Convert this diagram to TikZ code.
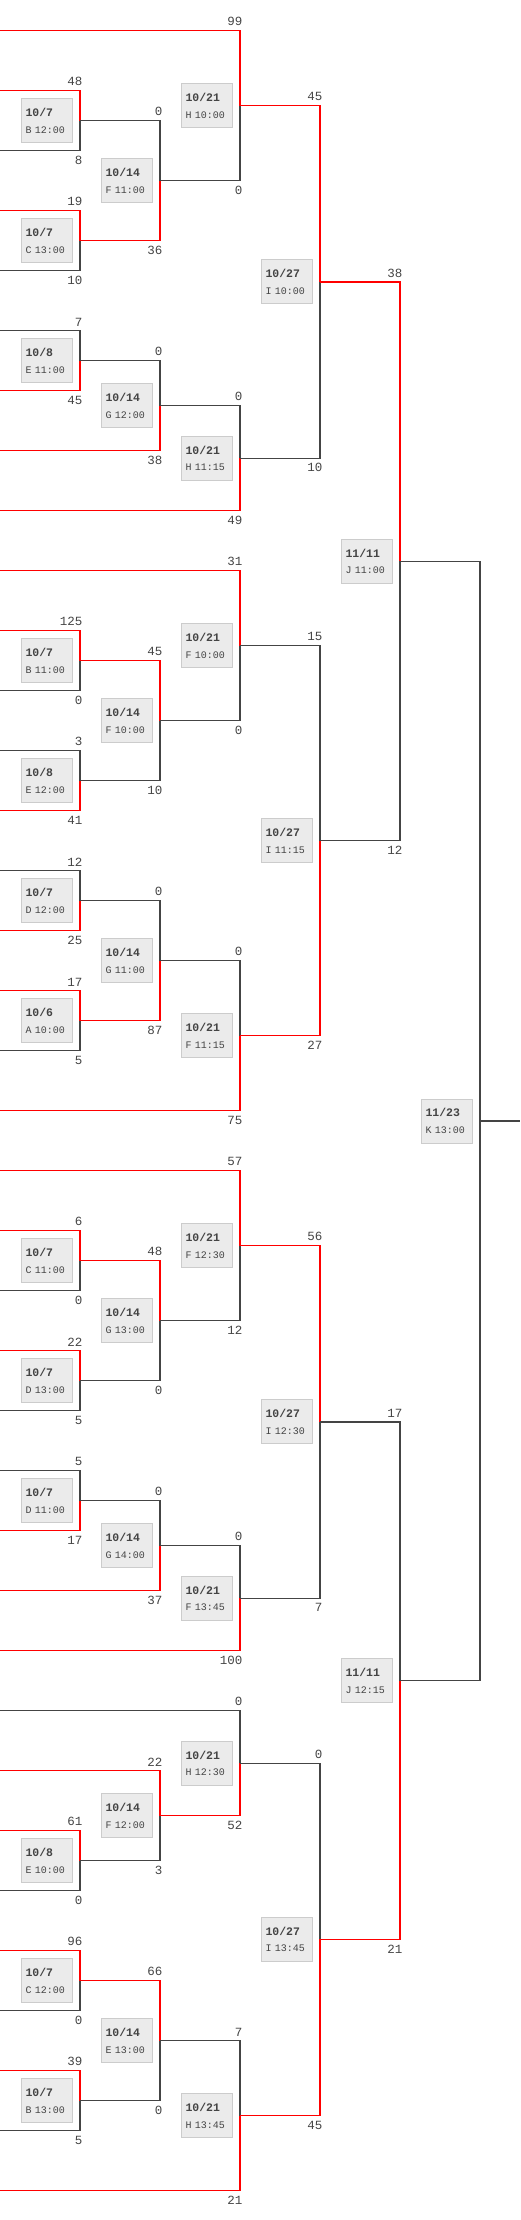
\documentclass[tikz,border=0pt]{standalone}
\usepackage{fontspec}
\setmonofont{Liberation Mono}
\usetikzlibrary{calc}
\definecolor{ink}{HTML}{444444}
\definecolor{winred}{HTML}{FF0000}
\definecolor{boxfill}{HTML}{EBEBEB}
\definecolor{boxline}{HTML}{CCCCCC}
\tikzset{
win/.style={draw=winred},
lose/.style={draw=ink},
score/.style={inner sep=0pt,text=ink,font=\ttfamily\fontsize{12.5}{13}\selectfont},
gamebox/.style={draw=boxline,fill=boxfill,line width=1pt,text=ink,anchor=east,
  font=\ttfamily\fontsize{10}{16.5}\selectfont,align=left,text width=43pt,
  inner xsep=4pt,inner ysep=0pt,minimum height=44pt}
}
\begin{document}
\begin{tikzpicture}[x=1pt,y=-1pt,line width=1.4pt]
\useasboundingbox (0,0) rectangle (520,2220);
\foreach \k in {0,...,36}{\coordinate (s\k) at (0,{30.7+60*\k});}
\foreach \g/\col/\up/\dn/\su/\sd/\cu/\cd/\mo/\dy/\slot in {
a1/1/s1/s2/48/8/win/lose/10/7/B 12:00,
a2/1/s3/s4/19/10/win/lose/10/7/C 13:00,
a3/1/s5/s6/7/45/lose/win/10/8/E 11:00,
a4/1/s10/s11/125/0/win/lose/10/7/B 11:00,
a5/1/s12/s13/3/41/lose/win/10/8/E 12:00,
a6/1/s14/s15/12/25/lose/win/10/7/D 12:00,
a7/1/s16/s17/17/5/win/lose/10/6/A 10:00,
a8/1/s20/s21/6/0/win/lose/10/7/C 11:00,
a9/1/s22/s23/22/5/win/lose/10/7/D 13:00,
a10/1/s24/s25/5/17/lose/win/10/7/D 11:00,
a11/1/s30/s31/61/0/win/lose/10/8/E 10:00,
a12/1/s32/s33/96/0/win/lose/10/7/C 12:00,
a13/1/s34/s35/39/5/win/lose/10/7/B 13:00,
b1/2/a1/a2/0/36/lose/win/10/14/F 11:00,
b2/2/a3/s7/0/38/lose/win/10/14/G 12:00,
b3/2/a4/a5/45/10/win/lose/10/14/F 10:00,
b4/2/a6/a7/0/87/lose/win/10/14/G 11:00,
b5/2/a8/a9/48/0/win/lose/10/14/G 13:00,
b6/2/a10/s26/0/37/lose/win/10/14/G 14:00,
b7/2/s29/a11/22/3/win/lose/10/14/F 12:00,
b8/2/a12/a13/66/0/win/lose/10/14/E 13:00,
c1/3/s0/b1/99/0/win/lose/10/21/H 10:00,
c2/3/b2/s8/0/49/lose/win/10/21/H 11:15,
c3/3/s9/b3/31/0/win/lose/10/21/F 10:00,
c4/3/b4/s18/0/75/lose/win/10/21/F 11:15,
c5/3/s19/b5/57/12/win/lose/10/21/F 12:30,
c6/3/b6/s27/0/100/lose/win/10/21/F 13:45,
c7/3/s28/b7/0/52/lose/win/10/21/H 12:30,
c8/3/b8/s36/7/21/lose/win/10/21/H 13:45,
d1/4/c1/c2/45/10/win/lose/10/27/I 10:00,
d2/4/c3/c4/15/27/lose/win/10/27/I 11:15,
d3/4/c5/c6/56/7/win/lose/10/27/I 12:30,
d4/4/c7/c8/0/45/lose/win/10/27/I 13:45,
e1/5/d1/d2/38/12/win/lose/11/11/J 11:00,
e2/5/d3/d4/17/21/lose/win/11/11/J 12:15}{
\path let \p1=(\up),\p2=(\dn) in (\col*80pt,\y1/2+\y2/2) coordinate (\g);
\draw[\cd] (\dn) -| node[score,pos=.5,anchor=north east,xshift=3pt,yshift=-4.5pt] (\g-d) {\sd} (\g);
\draw[\cu] (\up) -| node[score,pos=.5,anchor=south east,xshift=3pt,yshift=4pt] (\g-u) {\su} (\g);
\node[gamebox] (\g-box) at ([xshift=-7pt]\g) {{\bfseries\fontsize{11.5}{16.5}\selectfont\mo/\dy}\\\slot};
}
\path let \p1=(e1),\p2=(e2) in (480pt,\y1/2+\y2/2) coordinate (f1);
\path (f1) ++(40,0) coordinate (champ);
\draw[lose] (e1) -| (f1);
\draw[lose] (e2) -| (f1);
\draw[lose] (f1) -- (champ);
\node[gamebox] (f1-box) at ([xshift=-7pt]f1) {{\bfseries\fontsize{11.5}{16.5}\selectfont11/23}\\K 13:00};
\end{tikzpicture}
\end{document}
